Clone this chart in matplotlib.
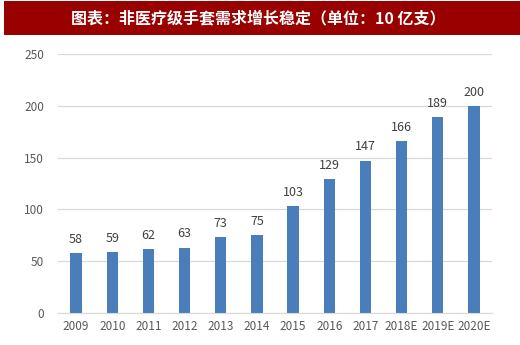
import matplotlib.pyplot as plt
from matplotlib.patches import Rectangle

plt.rcParams['font.family'] = ['Noto Sans CJK SC', 'DejaVu Sans']

# data
years = ['2009', '2010', '2011', '2012', '2013', '2014', '2015', '2016',
         '2017', '2018E', '2019E', '2020E']
demand = [58, 59, 62, 63, 73, 75, 103, 129, 147, 166, 189, 200]
yticks = [0, 50, 100, 150, 200, 250]
title = '图表：非医疗级手套需求增长稳定（单位：10 亿支）'

fig = plt.figure(figsize=(5.2, 3.45), dpi=100)

# red title band
fig.patches.append(Rectangle((4 / 520, 1 - 35 / 345), 516 / 520, 34 / 345,
                             transform=fig.transFigure, facecolor='#990000',
                             edgecolor='none', zorder=0))
fig.text(258 / 520, 1 - 18 / 345, title, color='white', fontsize=11.5,
         fontweight='bold', ha='center', va='center')

ax = fig.add_axes([58 / 520, 32 / 345, 434 / 520, 259 / 345])
x = range(len(years))
bars = ax.bar(x, demand, width=0.31, color='#4a7ebb', zorder=2)
for xi, v in zip(x, demand):
    ax.text(xi, v + 7, str(v), ha='center', va='bottom', fontsize=9,
            color='#404040')

ax.set_xlim(-0.5, len(years) - 0.5)
ax.set_ylim(0, 250)
ax.set_yticks(yticks)
ax.set_xticks(list(x))
ax.set_xticklabels(years)
ax.grid(axis='y', color='#d9d9d9', linewidth=0.9, zorder=0)
ax.tick_params(length=0, labelsize=8.5, labelcolor='#595959')
ax.tick_params(axis='y', pad=10)
ax.tick_params(axis='x', pad=5)
for s in ['top', 'right', 'left']:
    ax.spines[s].set_visible(False)
ax.spines['bottom'].set_color('#d9d9d9')

fig.savefig('out.png', dpi=100)
